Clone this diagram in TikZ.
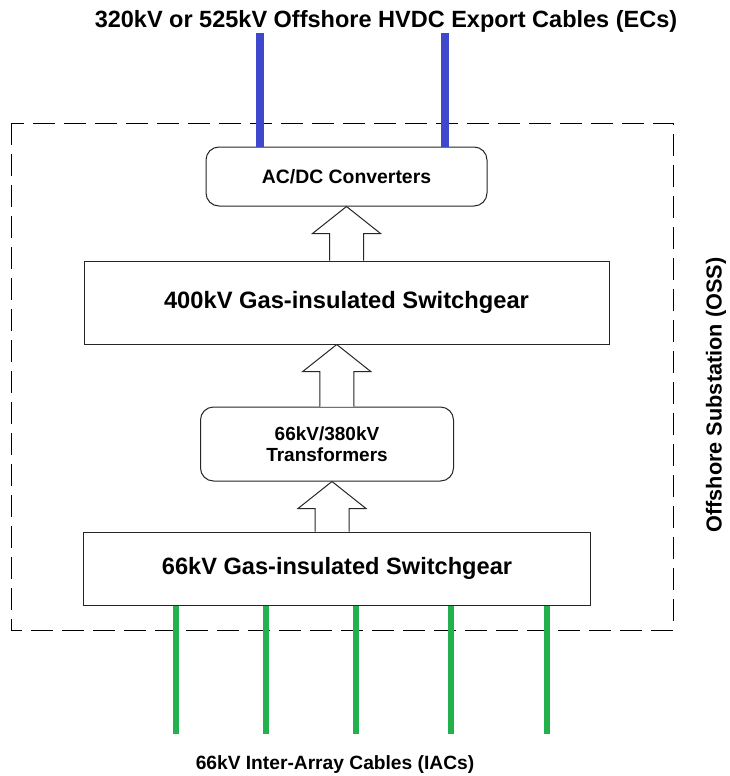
\documentclass[tikz,border=0pt]{standalone}
\usepackage{fontspec}
\setmainfont{Liberation Sans}
\usetikzlibrary{positioning, calc}

\definecolor{hvdcblue}{RGB}{63,72,204}
\definecolor{iacgreen}{RGB}{34,177,76}

% hollow block arrow from the lower node #1 up to the upper node #2
\newcommand{\powerflow}[2]{%
  \draw[flowarrow] let \p1=(#1.north), \p2=(#2.south), \n1={(\x1+\x2)/2} in
    ({\n1-17pt},\y1) -- ({\n1-17pt},\y2-27pt) -- ({\n1-34pt},\y2-27pt) -- (\n1,\y2)
    -- ({\n1+34pt},\y2-27pt) -- ({\n1+17pt},\y2-27pt) -- ({\n1+17pt},\y1);}

\begin{document}
\begin{tikzpicture}[x=1pt, y=-1pt]
        \tikzstyle{roundbox} = [rectangle, rounded corners=13pt, text centered, align=center, draw=black!85, line width=1pt, fill=white]
        \tikzstyle{squarebox} = [rectangle, text centered, align=center, draw=black!85, line width=1pt, fill=white]
        \tikzstyle{flowarrow} = [draw=black!85, line width=1pt, fill=white]
        \tikzstyle{ossframe} = [draw=black, line width=1pt, dash pattern=on 22pt off 9pt]
        \tikzstyle{hvdc} = [draw=hvdcblue, line width=7.5pt]
        \tikzstyle{iac} = [draw=iacgreen, line width=6pt]

        \useasboundingbox (0,0) rectangle (730,776);

        % substation boundary
        \draw [ossframe] (11,123) rectangle (673,630);

        \node (title) at (386,21) [font=\fontsize{23.5}{26}\selectfont\bfseries] {320kV or 525kV Offshore HVDC Export Cables (ECs)};
        \node (conv) at (346.5,176.5) [roundbox, minimum width=281pt, minimum height=59pt, font=\fontsize{19.4}{22}\selectfont\bfseries] {AC/DC Converters};
        \node (sg400) [squarebox, below=54pt of conv, minimum width=525pt, minimum height=83pt, font=\fontsize{23.7}{26}\selectfont\bfseries] {400kV Gas-insulated Switchgear};
        \node (trf) [roundbox, below=62pt of sg400, xshift=-19.5pt, minimum width=253pt, minimum height=74pt, font=\fontsize{19}{21}\selectfont\bfseries] {66kV/380kV\\Transformers};
        \node (sg66) [squarebox, below=50pt of trf, xshift=10pt, minimum width=507pt, minimum height=73pt, font=\fontsize{23.6}{26}\selectfont\bfseries] {66kV Gas-insulated Switchgear};
        \node (iaclabel) at (335,765) [font=\fontsize{19.2}{22}\selectfont\bfseries] {66kV Inter-Array Cables (IACs)};
        \node (osslabel) at (716,395) [rotate=90, font=\fontsize{21.7}{24}\selectfont\bfseries] {Offshore Substation (OSS)};

        \powerflow{sg400}{conv}
        \powerflow{trf}{sg400}
        \powerflow{sg66}{trf}

        % export and inter-array cables
        \foreach \x in {260,445}
            \draw [hvdc] (\x,0 |- conv.north) -- (\x,33);
        \foreach \x in {176,266,356,451,547}
            \draw [iac] (\x,0 |- sg66.south) -- (\x,734);
    \end{tikzpicture}
\end{document}
